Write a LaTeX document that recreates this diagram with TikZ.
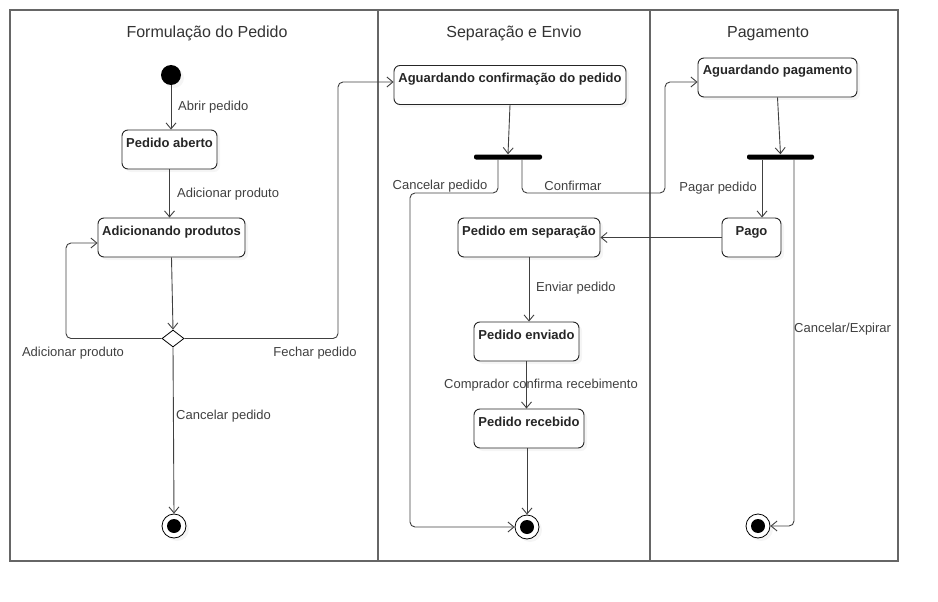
\documentclass[tikz,border=0pt]{standalone}
\usepackage{fontspec}
\setmainfont{Liberation Sans}
\usetikzlibrary{shapes.geometric, arrows.meta, shadows}

\begin{document}
\begin{tikzpicture}[x=1pt, y=-1pt]
\tikzstyle{lane} = [draw=black!60, line width=1.3pt]
\tikzstyle{title} = [font=\fontsize{16}{19}\selectfont, text=black!80, anchor=base]
\tikzstyle{state} = [rectangle, rounded corners=6pt, draw=black!85, line width=0.9pt, fill=white, drop shadow={shadow xshift=3pt, shadow yshift=-3pt, fill=black!8}, font=\bfseries\fontsize{13}{15}\selectfont, text=black!85, inner xsep=2pt, inner ysep=7.5pt, text height=9.5pt, text depth=14.5pt]
\tikzstyle{inicio} = [circle, fill=black, minimum size=20pt, inner sep=0pt, drop shadow={shadow xshift=3pt, shadow yshift=-3pt, fill=black!8}]
\tikzstyle{fim} = [circle, draw=black, fill=white, line width=0.8pt, minimum size=24pt, inner sep=0pt, drop shadow={shadow xshift=3pt, shadow yshift=-3pt, fill=black!8}, path picture={\fill[black] (path picture bounding box.center) circle (7pt);}]
\tikzstyle{barra} = [rectangle, fill=black, rounded corners=2pt, minimum height=5pt, inner sep=0pt]
\tikzstyle{decisao} = [diamond, draw=black, fill=white, line width=0.8pt, minimum width=22pt, minimum height=17pt, inner sep=0pt]
\tikzstyle{evento} = [font=\fontsize{13}{15}\selectfont, text=black!75, inner sep=1pt]
\tikzstyle{arrow} = [draw=black!75, line width=0.9pt, -{Straight Barb[length=6pt,width=10pt]}]

\useasboundingbox (0,0) rectangle (938,602);

\draw [lane] (10,10) rectangle (378,561);
\draw [lane] (378,10) rectangle (650,561);
\draw [lane] (650,10) rectangle (898,561);
\node (formulacao) [title] at (207,38) {Formulação do Pedido};
\node (envio) [title] at (514,38) {Separação e Envio};
\node (pagto) [title] at (768,38) {Pagamento};

\node (init) [inicio] at (171,75) {};
\node (aberto) [state, minimum width=95pt] at (169.5,149.5) {Pedido aberto};
\node (adicionando) [state, minimum width=147pt] at (171.5,237.5) {Adicionando produtos};
\node (escolha) [decisao] at (173,338.5) {};
\node (fim1) [fim] at (174,526) {};

\node (confirmacao) [state, minimum width=232pt] at (510,85) {Aguardando confirmação do pedido};
\node (barra1) [barra, minimum width=68pt] at (508,157) {};
\node (separacao) [state, minimum width=142pt] at (529,237.5) {Pedido em separação};
\node (enviado) [state, minimum width=105pt] at (526.5,341.5) {Pedido enviado};
\node (recebido) [state, minimum width=110pt] at (529,428.5) {Pedido recebido};
\node (fim2) [fim] at (527,527) {};

\node (pagamento) [state, minimum width=159pt] at (777.5,77.5) {Aguardando pagamento};
\node (barra2) [barra, minimum width=67pt] at (780.5,157) {};
\node (pago) [state, minimum width=59pt] at (751.5,237.5) {Pago};
\node (fim3) [fim] at (758,526) {};

\coordinate (laco) at (66,243);
\coordinate (fechar) at (338,82);
\coordinate (cancela) at (410,193);
\coordinate (conf1) at (665,193);
\coordinate (conf2) at (665,82);

\draw [arrow] (init) -- (init |- aberto.north);
\draw [arrow] (aberto.south) -- (aberto.south |- adicionando.north);
\draw [arrow] (adicionando.south) -- (escolha.north);
\draw [arrow, rounded corners=5pt] (escolha.west) -| (laco) -- (laco -| adicionando.west);
\draw [arrow, rounded corners=5pt] (escolha.east) -| (fechar) -- (fechar -| confirmacao.west);
\draw [arrow] (escolha.south) -- (fim1.north);

\draw [arrow] (confirmacao.south) -- (barra1.north);
\draw [arrow, rounded corners=5pt] ([xshift=-10pt]barra1.south) |- (cancela) |- (fim2.west);
\draw [arrow, rounded corners=5pt] ([xshift=14pt]barra1.south) |- (conf1) -- (conf2) -- (conf2 -| pagamento.west);
\draw [arrow] (pago.west) -- (separacao.east);
\draw [arrow] (separacao.south) -- (separacao.south |- enviado.north);
\draw [arrow] (enviado.south) -- (enviado.south |- recebido.north);
\draw [arrow] (fim2 |- recebido.south) -- (fim2.north);

\draw [arrow] (pagamento.south) -- (barra2.north);
\draw [arrow] ([xshift=-18.5pt]barra2.south) -- ([xshift=-18.5pt]barra2.south |- pago.north);
\draw [arrow, rounded corners=5pt] ([xshift=13.5pt]barra2.south) |- (fim3.east);

\node [evento, anchor=west] at (177,107) {Abrir pedido};
\node [evento, anchor=west] at (176,194) {Adicionar produto};
\node [evento] at (73,353) {Adicionar produto};
\node [evento] at (315,353) {Fechar pedido};
\node [evento, anchor=west] at (175,416) {Cancelar pedido};
\node [evento] at (440,186) {Cancelar pedido};
\node [evento] at (573,186) {Confirmar};
\node [evento, anchor=west] at (535,288) {Enviar pedido};
\node [evento] at (541,385) {Comprador confirma recebimento};
\node [evento, anchor=east] at (758,188) {Pagar pedido};
\node [evento, anchor=west] at (793,329) {Cancelar/Expirar};
\end{tikzpicture}
\end{document}
